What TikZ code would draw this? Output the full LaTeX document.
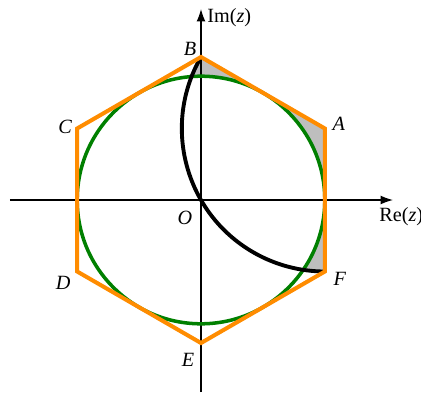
\documentclass[tikz,border=0pt]{standalone}
\usepackage{fontspec}
\setmainfont{Liberation Serif}
\usepackage{tikz}
\usetikzlibrary{calc,arrows.meta}
\definecolor{hexorange}{HTML}{FF8C00}
\definecolor{circgreen}{HTML}{008000}
\definecolor{shadegray}{HTML}{BEBEBE}
\begin{document}
\begin{tikzpicture}[x=0.02cm,y=0.02cm,font=\fontsize{11.5}{14}\selectfont,
  axis/.style={black,line width=0.7pt,-{Latex[length=7pt,width=5pt]}},
  vlabel/.style={inner sep=0pt,font=\fontsize{11.5}{14}\selectfont\itshape}]
  \useasboundingbox (-201,-192) rectangle (220,200);
  % vertex name / angle / label offset
  \foreach \vn/\va/\dx/\dy in {A/30/14/5,B/90/-11/8,C/150/-12/2,
                               D/210/-14/-11,E/270/-13/-17,F/330/15/-7}{
    \coordinate (\vn) at (\va:143);
    \node[vlabel] (l\vn) at ($(\vn)+(\dx,\dy)$) {\vn};
  }
  \coordinate (O) at (0,0);
  \node[vlabel] (lO) at (-16,-18) {O};
  % shaded part: inside hexagon and arc disk, outside circle
  \begin{scope}
    \clip (A)--(B)--(C)--(D)--(E)--(F)--cycle;
    \clip (A) circle (143);
    \fill[shadegray,even odd rule] (-201,-192) rectangle (220,200) (O) circle (123.8);
  \end{scope}
  \coordinate (xl) at (-191,0);
  \coordinate (xr) at (192,0);
  \coordinate (yb) at (0,-192);
  \coordinate (yt) at (0,191);
  \draw[axis] (xl)--(xr);
  \draw[axis] (yb)--(yt);
  \node[anchor=west,inner sep=0pt] (im) at (6,182) {Im(\textit{z})};
  \node[anchor=west,inner sep=0pt] (re) at (178,-17) {Re(\textit{z})};
  \draw[circgreen,line width=2pt] (O) circle (123.8);
  \draw[black,line width=2.2pt] (B) arc[start angle=150,end angle=270,radius=143];
  \draw[hexorange,line width=2.3pt,line join=miter]
    (A)--(B)--(C)--(D)--(E)--(F)--cycle;
\end{tikzpicture}
\end{document}
